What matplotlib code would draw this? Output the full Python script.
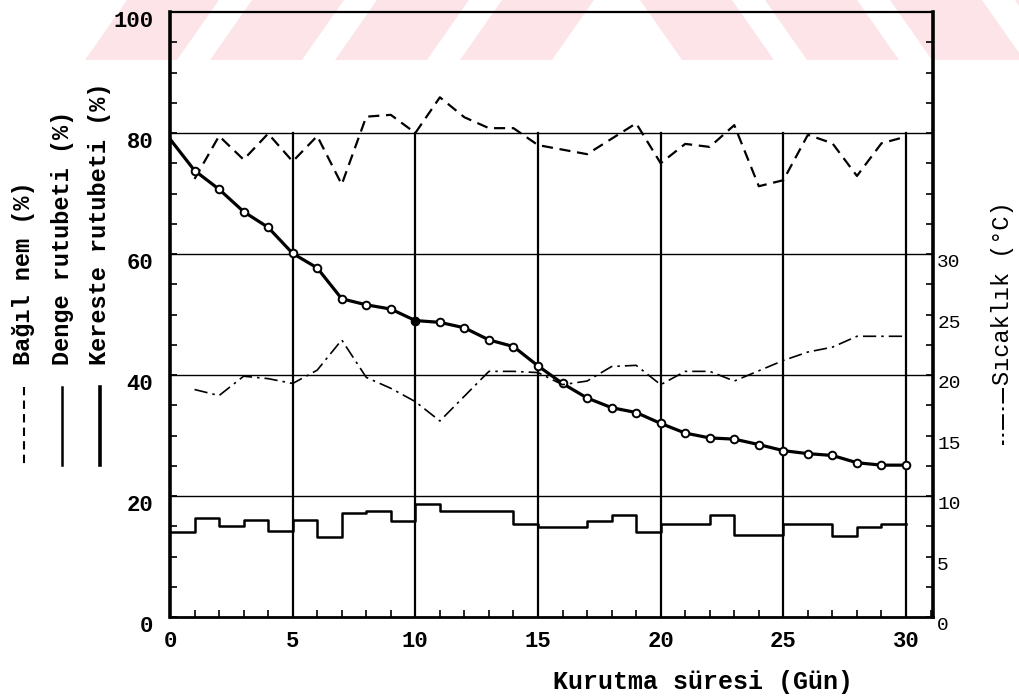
import matplotlib
matplotlib.use("Agg")
import matplotlib.pyplot as plt
from matplotlib.lines import Line2D
from matplotlib.patches import Polygon
from matplotlib.transforms import ScaledTranslation
from matplotlib.ticker import MultipleLocator, FixedLocator

plt.rcParams['font.family'] = ['Liberation Mono', 'DejaVu Sans Mono']

# Kereste rutubeti (%) - her gün
days = list(range(0, 31))
kereste = [79.0, 73.8, 70.7, 67.0, 64.4, 60.1, 57.7, 52.6, 51.6, 50.9, 49.0,
           48.7, 47.8, 45.8, 44.7, 41.5, 38.6, 36.2, 34.6, 33.8, 32.0,
           30.4, 29.6, 29.4, 28.5, 27.5, 27.0, 26.7, 25.5, 25.1, 25.1]

# Bağıl nem (%)
nem_days = [1, 2, 3, 4, 5, 6, 7, 8, 9, 10, 11, 12, 13, 14, 15, 17, 19, 20,
            21, 22, 23, 24, 25, 26, 27, 28, 29, 30]
nem = [72.4, 79.5, 75.6, 79.9, 75.3, 79.5, 71.5, 82.7, 83.0, 80.0, 85.9, 82.6,
       80.8, 80.8, 78.0, 76.5, 81.6, 75.0, 78.2, 77.7, 81.3, 71.2, 72.2, 79.7,
       78.3, 72.9, 78.3, 79.4]

# Sıcaklık (°C) - sağ eksen
temp_days = [1, 2, 3, 4, 5, 6, 7, 8, 9, 10, 11, 13, 14, 15, 16, 17, 18, 19,
             20, 21, 22, 23, 25, 26, 27, 28, 30]
temp = [18.8, 18.3, 19.9, 19.7, 19.3, 20.4, 22.9, 19.8, 18.9, 17.8, 16.2,
        20.3, 20.3, 20.2, 19.2, 19.5, 20.7, 20.8, 19.2, 20.3, 20.3, 19.5,
        21.2, 21.9, 22.3, 23.2, 23.2]

# Denge rutubeti (%) - günlük basamak
denge = [14.1, 16.3, 15.0, 16.0, 14.2, 16.1, 13.3, 17.2, 17.5, 15.8, 18.6,
         17.5, 17.5, 17.5, 15.3, 14.9, 14.9, 15.8, 16.9, 14.1, 15.4, 15.4,
         16.9, 13.5, 13.5, 15.3, 15.3, 13.4, 14.8, 15.4]

left_ticks = [0, 20, 40, 60, 80, 100]
right_ticks = [0, 5, 10, 15, 20, 25, 30]

W, H = 1019, 697
fig = plt.figure(figsize=(W / 100, H / 100), dpi=100)


def px(x, y):
    return x / W, 1 - y / H


# pembe filigran şeritleri (üst kenar)
pink = '#fce4e8'
band_top, band_bot = 0, 60
x0 = 85
while x0 < 560:
    fig.patches.append(Polygon([px(x0, band_bot), px(x0 + 92, band_bot),
                                px(x0 + 134, band_top), px(x0 + 42, band_top)],
                               closed=True, transform=fig.transFigure,
                               facecolor=pink, edgecolor='none', zorder=-1))
    x0 += 125
x0 = 640
while x0 < W:
    fig.patches.append(Polygon([px(x0, band_top), px(x0 + 92, band_top),
                                px(x0 + 134, band_bot), px(x0 + 42, band_bot)],
                               closed=True, transform=fig.transFigure,
                               facecolor=pink, edgecolor='none', zorder=-1))
    x0 += 125

left, right, top, bottom = 170, 933, 12, 617
ax = fig.add_axes([left / W, 1 - bottom / H, (right - left) / W, (bottom - top) / H])
ax.patch.set_alpha(0)
ax.set_xlim(0, 31.1)
ax.set_ylim(0, 100)

# ızgara çizgileri
for y in [20, 40, 60, 80]:
    ax.axhline(y, color='black', lw=1.0, zorder=1)
for x in [5, 10, 15, 20, 25, 30]:
    ax.plot([x, x], [0, 80], color='black', lw=1.6, zorder=1)

ax.step(days, denge + [denge[-1]], where='post', color='black', lw=1.8, zorder=3)
ax.plot(nem_days, nem, color='black', lw=1.6, dashes=(5, 3), zorder=3)
ax.plot(days, kereste, color='black', lw=2.3, marker='o', markersize=5.5,
        markerfacecolor='white', markeredgewidth=1.4, markevery=list(range(1, 31)),
        zorder=4)
ax.plot([days[10]], [kereste[10]], 'o', color='black', markersize=5.5, zorder=5)

ax2 = ax.twinx()
ax2.set_ylim(0, 50)
ax2.plot(temp_days, temp, color='black', lw=1.2, dashes=(8, 3, 1.5, 3), zorder=3)

for a in (ax, ax2):
    for s in a.spines.values():
        s.set_color('black')
ax.spines['left'].set_linewidth(2.6)
ax.spines['bottom'].set_linewidth(2.0)
ax.spines['top'].set_linewidth(1.6)
ax.spines['right'].set_visible(False)
ax2.spines['right'].set_linewidth(2.6)
for s in ['left', 'bottom', 'top']:
    ax2.spines[s].set_visible(False)

ax.xaxis.set_major_locator(MultipleLocator(5))
ax.xaxis.set_minor_locator(MultipleLocator(1))
ax.yaxis.set_major_locator(FixedLocator(left_ticks))
ax.yaxis.set_minor_locator(MultipleLocator(5))
ax.tick_params(axis='both', which='both', direction='in', colors='black')
ax.tick_params(axis='both', which='major', length=5, width=1.3)
ax.tick_params(axis='both', which='minor', length=5, width=1.2)
ax.tick_params(axis='y', which='both', right=False)
ax.tick_params(axis='x', which='major', pad=10, labelsize=16)
ax.tick_params(axis='y', which='major', pad=12, labelsize=16)
for lab in ax.get_xticklabels() + ax.get_yticklabels():
    lab.set_fontweight('bold')
for lab in ax.get_yticklabels():
    lab.set_transform(lab.get_transform() + ScaledTranslation(0, -5 / 72, fig.dpi_scale_trans))

ax2.yaxis.set_major_locator(FixedLocator(right_ticks))
ax2.yaxis.set_minor_locator(FixedLocator([2.5, 7.5, 12.5, 17.5, 22.5, 27.5, 32.5,
                                          35, 37.5, 40, 42.5, 45, 47.5]))
ax2.tick_params(axis='y', which='both', direction='in', length=5, width=1.2,
                pad=3, labelsize=14)
for lab in ax2.get_yticklabels():
    lab.set_transform(lab.get_transform() + ScaledTranslation(0, -5 / 72, fig.dpi_scale_trans))

# sol eksen açıklamaları
legend_cols = [(24, 'Bağıl nem (%)', dict(lw=1.5, dashes=(4, 2.5))),
               (62, 'Denge rutubeti (%)', dict(lw=1.8)),
               (100, 'Kereste rutubeti (%)', dict(lw=2.6))]
for xc, txt, style in legend_cols:
    fig.text(*px(xc, 365), txt, rotation=90, ha='center', va='bottom',
             fontsize=17, fontweight='bold')
    fig.lines.append(Line2D([xc / W, xc / W], [1 - 387 / H, 1 - 465 / H],
                            transform=fig.transFigure, color='black', **style))

fig.text(*px(1003, 385), 'Sıcaklık (°C)', rotation=90, ha='center', va='bottom',
         fontsize=17)
fig.lines.append(Line2D([1003 / W, 1003 / W], [1 - 388 / H, 1 - 445 / H],
                        transform=fig.transFigure, color='black', lw=1.4,
                        dashes=(8, 2, 1.5, 2)))

fig.text(*px(703, 682), 'Kurutma süresi (Gün)', ha='center', va='center',
         fontsize=18, fontweight='bold')

fig.savefig('out.png', dpi=100)
